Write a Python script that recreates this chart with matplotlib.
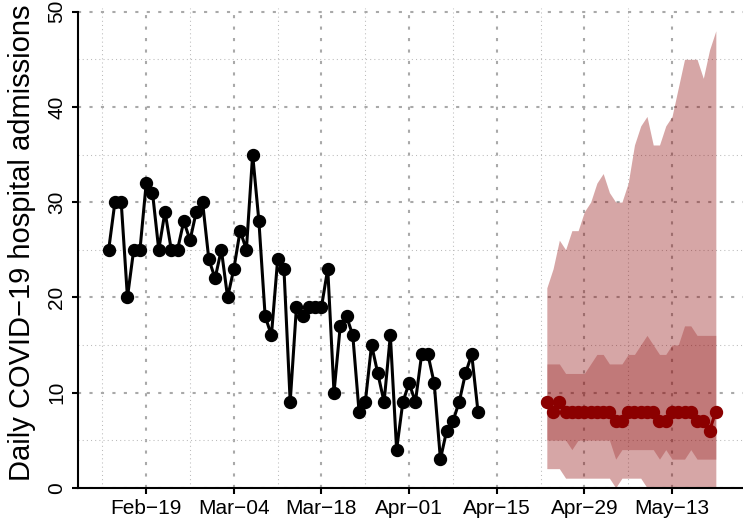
import numpy as np
import pandas as pd
import matplotlib
matplotlib.use("Agg")
import matplotlib.pyplot as plt
import matplotlib.dates as mdates
from matplotlib.ticker import MultipleLocator

plt.rcParams['font.family'] = ['Liberation Sans', 'DejaVu Sans']

# observed daily admissions, Feb 13 - Apr 12
obs_dates = pd.date_range("2024-02-13", "2024-04-12", freq="D")
obs_vals = [25, 30, 30, 20, 25, 25, 32, 31, 25, 29,
            25, 25, 28, 26, 29, 30, 24, 22, 25, 20,
            23, 27, 25, 35, 28, 18, 16, 24, 23, 9,
            19, 18, 19, 19, 19, 23, 10, 17, 18, 16,
            8, 9, 15, 12, 9, 16, 4, 9, 11, 9,
            14, 14, 11, 3, 6, 7, 9, 12, 14, 8]

# forecast, Apr 23 - May 20
fc_dates = pd.date_range("2024-04-23", "2024-05-20", freq="D")
fc_median = [9, 8, 9, 8, 8, 8, 8, 8, 8, 8, 8, 7, 7, 8,
             8, 8, 8, 8, 7, 7, 8, 8, 8, 8, 7, 7, 6, 8]
fc_hi95 = [21, 23, 26, 25, 27, 27, 29, 30, 32, 33, 31, 30, 30, 32,
           36, 38, 39, 36, 36, 38, 39, 42, 45, 45, 45, 43, 46, 48]
fc_lo95 = [2, 2, 2, 1, 1, 1, 1, 1, 1, 1, 1, 0, 1, 1,
           1, 1, 0, 0, 0, 0, 0, 0, 0, 0, 0, 0, 0, 0]
fc_hi50 = [13, 13, 13, 12, 12, 12, 12, 13, 14, 14, 13, 13, 13, 14,
           14, 15, 16, 15, 14, 14, 15, 15, 17, 17, 16, 16, 16, 16]
fc_lo50 = [5, 5, 5, 5, 4, 5, 5, 5, 5, 5, 5, 3, 4, 4,
           4, 4, 4, 4, 3, 4, 3, 3, 3, 4, 3, 3, 3, 3]

tick_dates = pd.date_range("2024-02-19", periods=7, freq="14D")
minor_dates = pd.date_range("2024-02-12", periods=7, freq="14D")
tick_labels = [d.strftime("%b") + "\u2212" + d.strftime("%d") for d in tick_dates]

fig = plt.figure(figsize=(7.43, 5.23), dpi=100)
ax = fig.add_axes([78 / 743, 35.3 / 523, 665 / 743, 479.8 / 523])

ax.fill_between(fc_dates, fc_lo95, fc_hi95, color="darkred", alpha=0.35, lw=0)
ax.fill_between(fc_dates, fc_lo50, fc_hi50, color="darkred", alpha=0.27, lw=0)

ax.plot(obs_dates, obs_vals, color="black", lw=2.2, marker="o", ms=8.6, zorder=3)
ax.plot(fc_dates, fc_median, color="darkred", lw=2.2, marker="o", ms=8.6, zorder=3)

f19 = mdates.date2num(pd.Timestamp("2024-02-19"))
ax.set_xlim(f19 - 10.9, f19 + 95.34)
ax.set_ylim(0, 50.4)

ax.set_xticks(tick_dates)
ax.set_xticklabels(tick_labels)
ax.set_xticks(minor_dates, minor=True)
ax.yaxis.set_major_locator(MultipleLocator(10))
ax.yaxis.set_minor_locator(MultipleLocator(5))
ax.set_yticks([0, 10, 20, 30, 40, 50])

ax.set_axisbelow(True)
ax.grid(which="major", color="#a9a9a9", lw=1.5, ls=(0, (1.5, 4)))
ax.grid(which="minor", color="#bbbbbb", lw=0.75, ls=(0, (1, 3)))

for s in ["top", "right"]:
    ax.spines[s].set_visible(False)
ax.spines["left"].set_bounds(0, 50)
ax.spines["left"].set_linewidth(1.5)
ax.spines["bottom"].set_linewidth(1.5)

ax.tick_params(which="major", length=4.3, width=1.5, labelsize=15, pad=4)
ax.tick_params(which="minor", length=0)
for lab in ax.get_yticklabels():
    lab.set_rotation(90)
    lab.set_va("center")

ax.set_ylabel("Daily COVID\u221219 hospital admissions", fontsize=21)
ax.yaxis.set_label_coords(-0.063, 0.51)

fig.savefig("out.png", dpi=100)
